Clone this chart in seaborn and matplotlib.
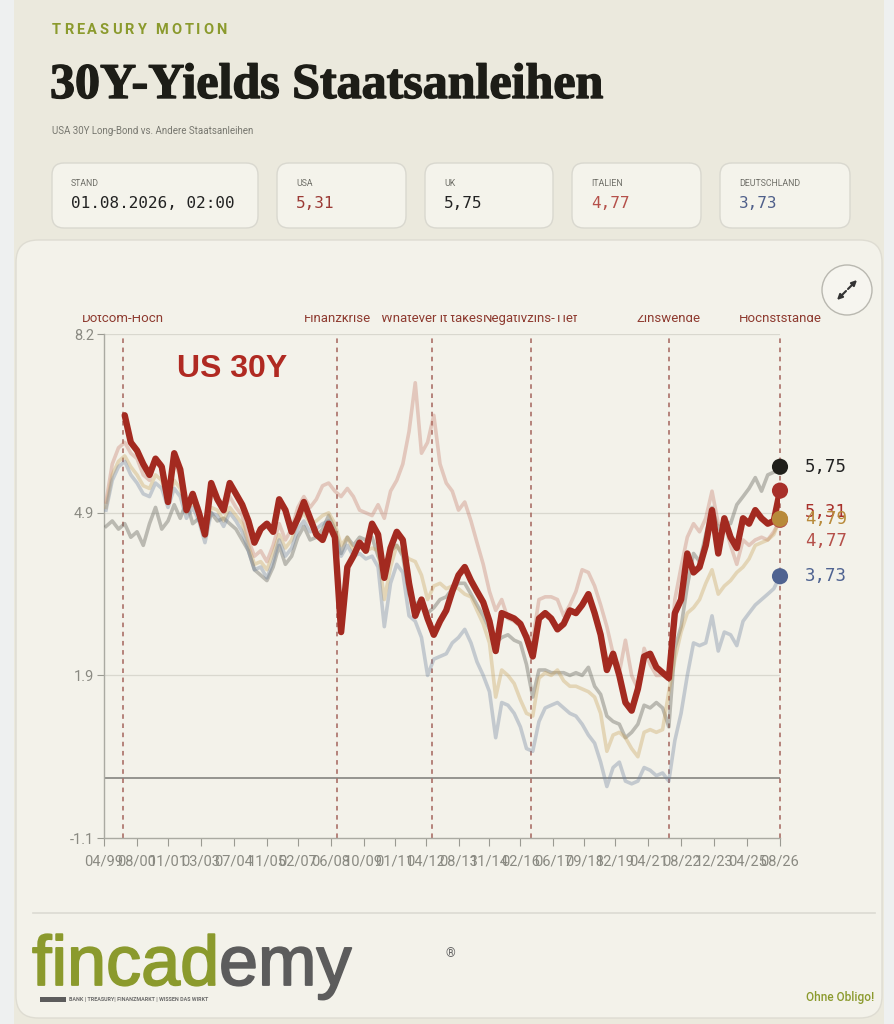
import numpy as np
import pandas as pd
import matplotlib
matplotlib.use("Agg")
import matplotlib.pyplot as plt
import matplotlib.patheffects as pe
from matplotlib.patches import FancyBboxPatch, Rectangle, Circle
from matplotlib.transforms import Bbox
import seaborn as sns

# quarterly samples, May 1999 .. Aug 2026
dates = pd.date_range("1999-05-01", periods=110, freq="3MS")

us_30y = [np.nan] * 3 + [
    6.7, 6.2, 6.05, 5.8, 5.6, 5.9, 5.75, 5.1, 6.0, 5.7,
    4.95, 5.25, 4.9, 4.5, 5.45, 5.15, 4.95, 5.45, 5.25, 5.05,
    4.75, 4.35, 4.6, 4.7, 4.55, 5.15, 4.95, 4.55, 4.8, 5.1,
    4.8, 4.5, 4.4, 4.7, 4.45, 2.7, 3.9, 4.1, 4.35, 4.2,
    4.7, 4.5, 3.7, 4.25, 4.55, 4.4, 3.6, 3.0, 3.3, 2.95,
    2.65, 2.9, 3.1, 3.45, 3.75, 3.9, 3.65, 3.45, 3.25, 2.9,
    2.35, 3.05, 3.0, 2.95, 2.85, 2.6, 2.25, 2.95, 3.05, 2.95,
    2.75, 2.85, 3.1, 3.05, 3.2, 3.4, 3.05, 2.65, 2.0, 2.3,
    1.9, 1.4, 1.25, 1.65, 2.25, 2.3, 2.05, 1.95, 1.85, 3.05,
    3.3, 4.15, 3.8, 3.9, 4.3, 4.95, 4.15, 4.8, 4.45, 4.25,
    4.8, 4.7, 4.95, 4.8, 4.7, 4.75, 5.31]

uk_30y = [
    4.65, 4.75, 4.6, 4.7, 4.45, 4.55, 4.3, 4.7, 5.0, 4.6,
    4.75, 5.05, 4.8, 5.1, 4.7, 4.8, 4.55, 4.9, 4.75, 4.8,
    4.7, 4.6, 4.4, 4.2, 3.85, 3.75, 3.65, 3.9, 4.3, 3.95,
    4.1, 4.45, 4.65, 4.4, 4.45, 4.6, 4.85, 4.6, 4.15, 4.45,
    4.3, 4.45, 4.4, 4.45, 4.1, 3.9, 4.2, 4.3, 4.1, 3.4,
    3.2, 3.3, 3.05, 3.15, 3.3, 3.35, 3.5, 3.6, 3.6, 3.4,
    3.2, 3.0, 2.75, 2.5, 2.6, 2.65, 2.55, 2.5, 2.1, 1.5,
    2.0, 2.0, 1.95, 1.95, 1.95, 1.9, 1.95, 1.9, 2.05, 1.7,
    1.55, 1.15, 1.05, 1.0, 0.75, 0.85, 1.0, 1.35, 1.3, 1.4,
    1.3, 0.95, 2.4, 2.8, 3.55, 4.15, 4.0, 4.5, 5.0, 4.6,
    4.75, 4.7, 5.05, 5.2, 5.35, 5.55, 5.3, 5.6, 5.65, 5.75]

it_30y = [
    5.1, 5.8, 6.1, 6.2, 6.0, 5.9, 5.6, 5.5, 5.9, 5.8,
    5.3, 5.8, 5.6, 5.0, 5.2, 5.0, 4.6, 5.3, 5.1, 4.9,
    5.2, 5.0, 4.85, 4.4, 4.1, 4.2, 4.0, 4.3, 4.7, 4.4,
    4.6, 5.0, 5.2, 5.0, 5.15, 5.4, 5.45, 5.3, 5.2, 5.35,
    5.2, 4.95, 4.9, 4.85, 5.05, 4.8, 5.3, 5.5, 5.8, 6.4,
    7.3, 6.0, 6.2, 6.7, 5.8, 5.45, 5.3, 4.95, 5.1, 4.75,
    4.35, 3.95, 3.45, 3.1, 3.3, 2.95, 2.9, 2.8, 2.65, 2.55,
    3.3, 3.35, 3.35, 3.3, 3.0, 3.2, 3.45, 3.85, 3.8, 3.55,
    3.2, 2.8, 2.3, 1.95, 2.55, 1.9, 1.65, 2.4, 2.1, 1.9,
    1.9, 1.95, 3.3, 3.9, 4.45, 4.7, 4.55, 4.8, 5.3, 4.7,
    4.7, 4.3, 3.95, 4.4, 4.3, 4.4, 4.45, 4.4, 4.55, 4.77]

fr_30y = [
    5.0, 5.6, 5.85, 5.95, 5.75, 5.6, 5.4, 5.35, 5.6, 5.5,
    5.1, 5.5, 5.35, 4.9, 5.1, 4.85, 4.45, 5.0, 4.95, 4.75,
    5.0, 4.85, 4.7, 4.3, 3.95, 4.0, 3.85, 4.15, 4.5, 4.25,
    4.4, 4.75, 4.9, 4.7, 4.75, 4.85, 4.9, 4.7, 4.3, 4.45,
    4.2, 4.3, 4.2, 4.25, 4.2, 3.3, 3.9, 4.3, 4.15, 4.05,
    4.0, 3.75, 3.3, 3.55, 3.6, 3.5, 3.55, 3.5, 3.4, 3.35,
    3.1, 2.85, 2.5, 1.5, 2.0, 1.9, 1.75, 1.45, 1.2, 1.15,
    1.85, 1.95, 1.9, 2.0, 1.8, 1.7, 1.7, 1.65, 1.6, 1.5,
    1.2, 0.5, 0.8, 0.85, 0.75, 0.55, 0.4, 0.85, 0.9, 0.85,
    0.9, 1.6, 2.2, 2.7, 3.05, 3.15, 3.3, 3.6, 3.85, 3.4,
    3.55, 3.65, 3.8, 3.9, 4.05, 4.3, 4.35, 4.4, 4.5, 4.79]

de_30y = [
    4.95, 5.5, 5.75, 5.85, 5.6, 5.45, 5.25, 5.2, 5.45, 5.35,
    5.0, 5.35, 5.2, 4.8, 5.0, 4.75, 4.35, 4.9, 4.85, 4.65,
    4.9, 4.75, 4.55, 4.2, 3.85, 3.9, 3.7, 4.0, 4.4, 4.1,
    4.25, 4.6, 4.75, 4.55, 4.6, 4.7, 4.75, 4.5, 4.1, 4.3,
    4.1, 4.15, 4.05, 4.1, 3.9, 2.8, 3.6, 3.95, 3.8, 3.0,
    2.9, 2.6, 1.9, 2.2, 2.25, 2.3, 2.5, 2.6, 2.75, 2.5,
    2.15, 1.9, 1.6, 0.75, 1.4, 1.35, 1.2, 0.95, 0.55, 0.5,
    1.05, 1.3, 1.35, 1.4, 1.3, 1.2, 1.15, 1.0, 0.8, 0.65,
    0.3, -0.15, 0.2, 0.3, -0.05, -0.1, -0.05, 0.2, 0.15, 0.05,
    0.1, -0.05, 0.7, 1.2, 1.9, 2.5, 2.45, 2.5, 3.0, 2.35,
    2.7, 2.65, 2.45, 2.9, 3.05, 3.2, 3.3, 3.4, 3.5, 3.73]

tick_labels = ["04/99", "08/00", "11/01", "03/03", "07/04", "11/05", "02/07",
               "06/08", "10/09", "01/11", "04/12", "08/13", "11/14", "02/16",
               "06/17", "09/18", "12/19", "04/21", "08/22", "12/23", "04/25", "08/26"]
y_ticks = [-1.1, 1.9, 4.9, 8.2]

event_names = ["Dotcom-Hoch", "Finanzkrise", "Whatever it takes",
               "Negativzins-Tief", "Zinswende", "Höchststände"]
event_dates = ["2000-01-01", "2008-09-01", "2012-07-01",
               "2016-07-01", "2022-02-01", "2026-08-01"]

card_labels = ["STAND", "USA", "UK", "ITALIEN", "DEUTSCHLAND"]
card_values = ["01.08.2026, 02:00", "5,31", "5,75", "4,77", "3,73"]

OLIVE = "#8b9a2d"
BEIGE = "#ebe9dd"
PAPER = "#f3f2ea"

plt.rcParams["font.family"] = ["Roboto", "DejaVu Sans"]

fig = plt.figure(figsize=(8.94, 10.24), dpi=100, facecolor="#eef0f0")
renderer = fig.canvas.get_renderer()

# background layer in pixel coordinates
bg = fig.add_axes([0, 0, 1, 1])
bg.set_xlim(0, 894)
bg.set_ylim(1024, 0)
bg.axis("off")
bg.add_patch(Rectangle((14, 0), 870, 1024, facecolor=BEIGE, edgecolor="none"))


def tracked_text(x, y, s, tracking, space=4, **kw):
    # place letters one by one to imitate letter spacing
    for ch in s:
        if ch == " ":
            x += space + tracking
            continue
        t = bg.text(x, y, ch, ha="left", **kw)
        x += t.get_window_extent(renderer=renderer).width + tracking


tracked_text(52, 30, "TREASURY MOTION", 2.9, space=4, fontsize=10.5,
             fontweight="bold", color=OLIVE, va="center")
bg.text(50, 86, "30Y-Yields Staatsanleihen", family="Liberation Serif",
        fontweight="bold", fontsize=36, color="#1d1d17", va="center", ha="left",
        path_effects=[pe.withStroke(linewidth=1.0, foreground="#1d1d17")])
bg.text(52, 131, "USA 30Y Long-Bond vs. Andere Staatsanleihen", fontsize=7,
        color="#77776f", va="center")

# stat cards
box_x = [52, 277, 425, 572, 720]
box_w = [206, 129, 128, 129, 130]
value_colors = ["#222222", "#9b3a35", "#222222", "#b5504a", "#4f5f8a"]
for bx, bw, lab, val, vc in zip(box_x, box_w, card_labels, card_values, value_colors):
    bg.add_patch(FancyBboxPatch((bx, 163), bw, 65,
                                boxstyle="round,pad=0,rounding_size=12",
                                facecolor="#f4f3eb", edgecolor="#d9d8cf", lw=1))
    bg.text(bx + 19, 183, lab, fontsize=6.3, color="#6f6f68", va="center")
    bg.text(bx + 19, 204, val, family="DejaVu Sans Mono", fontsize=11.5,
            color=vc, va="center")

# chart card
bg.add_patch(FancyBboxPatch((16, 240), 866, 778,
                            boxstyle="round,pad=0,rounding_size=22",
                            facecolor=PAPER, edgecolor="#dedcd2", lw=1))
bg.add_patch(Circle((847, 290), 25, facecolor="#f6f5ef", edgecolor="#b9b8b0", lw=1))
for tip, tail in [((857, 280), (848, 289)), ((837, 300), (846, 291))]:
    bg.annotate("", xy=tip, xytext=tail,
                arrowprops=dict(arrowstyle="-|>,head_length=0.3,head_width=0.15",
                                lw=1.5, color="#333333", shrinkA=0, shrinkB=0))

bg.text(177, 369, "US 30Y", family="Liberation Sans", fontweight="bold",
        fontsize=23, color="#b02a22", va="center", ha="left", zorder=5)

# footer
bg.plot([33, 875], [913, 913], color="#dcdbd2", lw=1.2)
bg.text(32, 985, "fincad", family="Liberation Sans", fontsize=50.5, color=OLIVE,
        va="baseline", ha="left",
        path_effects=[pe.withStroke(linewidth=1.3, foreground=OLIVE)])
bg.text(219, 985, "emy", family="Liberation Sans", fontsize=50.5, color="#5c5c5c",
        va="baseline", ha="left",
        path_effects=[pe.withStroke(linewidth=1.3, foreground="#5c5c5c")])
bg.add_patch(Rectangle((40, 997), 26, 5, facecolor="#5c5c5c", edgecolor="none"))
bg.text(69, 1000, "BANK | TREASURY| FINANZMARKT | WISSEN DAS WIRKT", fontsize=3.9,
        fontweight="bold", color="#6a6a6a", va="center", ha="left")
bg.text(450, 954, "®", fontsize=9, color="#6a6a6a", va="center", ha="center")
bg.text(874, 997, "Ohne Obligo!", fontsize=8.5, fontweight="medium", color=OLIVE,
        va="center", ha="right")

# main chart
ax = fig.add_axes([104 / 894, 1 - 838 / 1024, 676 / 894, 504 / 1024])
ax.set_facecolor("none")

faded = [("UK", uk_30y, "#6b6b63", 0.42),
         ("Italien", it_30y, "#c0705f", 0.33),
         ("Frankreich", fr_30y, "#c9a25a", 0.36),
         ("Deutschland", de_30y, "#6f829f", 0.36)]
for name, vals, col, a in faded:
    sns.lineplot(x=dates, y=vals, ax=ax, color=col, alpha=a, lw=2.6,
                 errorbar=None, zorder=3)
sns.lineplot(x=dates, y=us_30y, ax=ax, color="#a32a20", lw=4.6, errorbar=None,
             zorder=4, solid_joinstyle="round", solid_capstyle="round")

ax.set_ylim(-1.1, 8.2)
ax.set_xlim(pd.Timestamp("1999-04-01"), pd.Timestamp("2026-08-01"))
for yv in y_ticks[1:]:
    ax.axhline(yv, color="#d9d8cf", lw=0.9, zorder=1)
ax.axhline(0, color="#8d8d88", lw=1.3, zorder=1)

tick_dates = pd.to_datetime(tick_labels, format="%m/%y")
ax.set_xticks(tick_dates)
ax.set_xticklabels(tick_labels)
ax.set_yticks(y_ticks)
ax.set_yticklabels([f"{v:.1f}" for v in y_ticks])
ax.tick_params(axis="x", colors="#9a9a92", labelcolor="#8a8a82", labelsize=10.5,
               length=6, pad=6)
ax.tick_params(axis="y", colors="#9a9a92", labelcolor="#8a8a82", labelsize=10.5,
               length=5, pad=2)
ax.set_xlabel("")
ax.set_ylabel("")
for side in ["top", "right"]:
    ax.spines[side].set_visible(False)
for side in ["left", "bottom"]:
    ax.spines[side].set_color("#aaaaa2")
    ax.spines[side].set_linewidth(1)

# event markers; their labels are cut at the top like in the app
label_clip = Bbox.from_extents(0, 0, 894, 1024 - 315)
for name, d in zip(event_names, event_dates):
    d = pd.Timestamp(d)
    ax.axvline(d, color="#a4655c", lw=1.1, ls=(0, (3, 3)), zorder=2, clip_on=False)
    t = ax.annotate(name, xy=(d, 1), xycoords=("data", "axes fraction"),
                    xytext=(0, 11), textcoords="offset points", ha="center",
                    va="center", fontsize=9.5, color="#8e3b30", annotation_clip=False)
    t.set_clip_on(True)
    t.set_clip_box(label_clip)

# end points and value labels
last = dates[-1]
end_series = [("Italien", it_30y, "#b5504a", "#b5504a", 4.38),
              ("USA", us_30y, "#a8302a", "#a8302a", 4.92),
              ("UK", uk_30y, "#1f1f1a", "#222222", None),
              ("Frankreich", fr_30y, "#b88a3a", "#b88a3a", None),
              ("Deutschland", de_30y, "#4f6391", "#4f6391", None)]
for name, vals, dot_col, txt_col, label_y in end_series:
    v = vals[-1]
    ax.scatter([last], [v], s=135, color=dot_col, zorder=6, clip_on=False,
               edgecolors="none")
    ly = v if label_y is None else label_y
    ax.annotate(f"{v:.2f}".replace(".", ","), xy=(last, ly), xytext=(18, 0),
                textcoords="offset points", ha="left", va="center",
                family="DejaVu Sans Mono", fontsize=12.5, color=txt_col,
                annotation_clip=False, zorder=7)

fig.savefig("out.png", dpi=100, facecolor=fig.get_facecolor())
